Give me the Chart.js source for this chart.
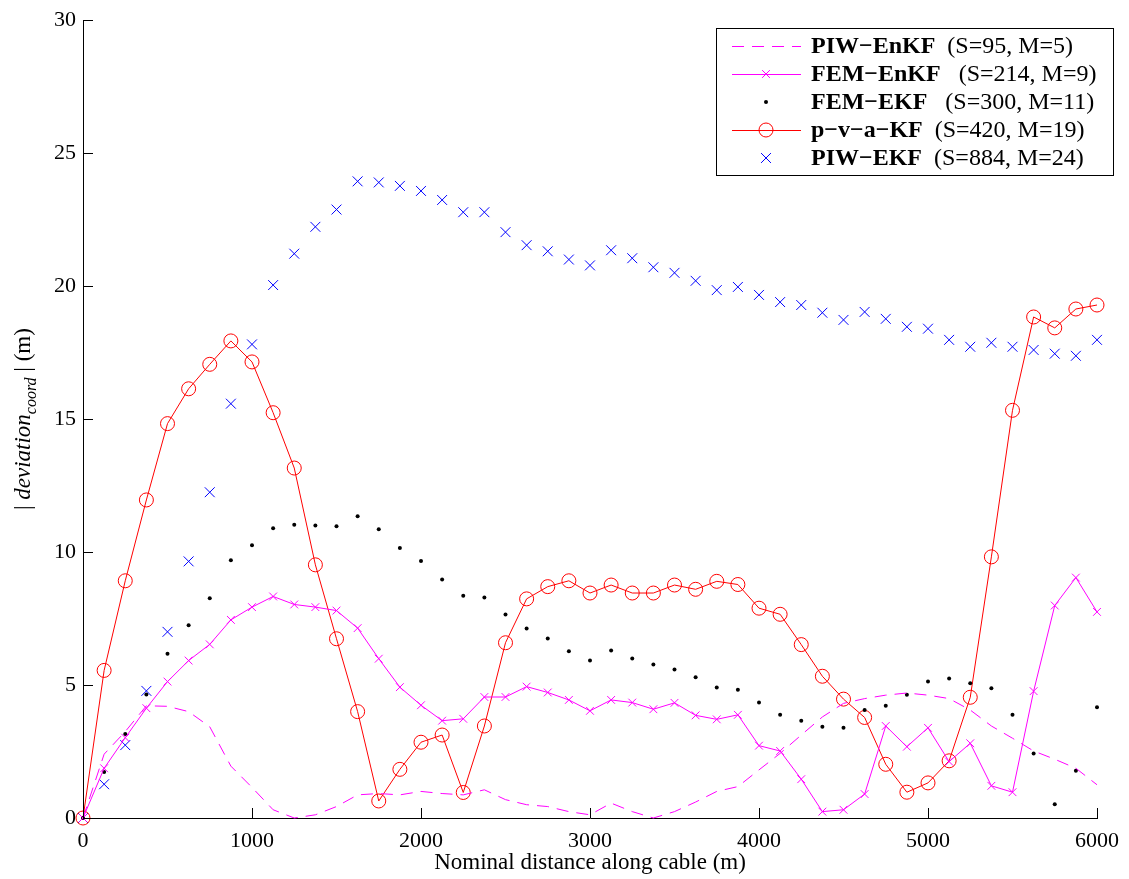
<!DOCTYPE html>
<html>
<head>
<meta charset="utf-8">
<script src="https://cdn.jsdelivr.net/npm/chart.js@4/dist/chart.umd.min.js"></script>
<style>
  html, body { margin: 0; padding: 0; background: #fff; }
  #wrap { width: 1129px; height: 879px; position: relative; }
</style>
</head>
<body>
<div id="wrap"><canvas id="c" width="1129" height="879"></canvas></div>
<script>
// ---- data ----
const distance = [0,125,250,375,500,625,750,875,1000,1125,1250,1375,1500,1625,1750,1875,2000,2125,
  2250,2375,2500,2625,2750,2875,3000,3125,3250,3375,3500,3625,3750,3875,4000,4125,4250,4375,
  4500,4625,4750,4875,5000,5125,5250,5375,5500,5625,5750,5875,6000];

const piwEnkf = [0,2.4,3.25,4.22,4.2,4.0,3.43,1.95,1.15,0.31,0.0,0.12,0.43,0.87,0.92,0.87,1.0,0.92,
  0.87,1.06,0.69,0.5,0.43,0.24,0.12,0.56,0.24,0.0,0.24,0.6,1.0,1.18,1.81,2.43,3.12,3.8,
  4.31,4.49,4.62,4.7,4.62,4.49,4.06,3.46,3.0,2.52,2.21,1.87,1.25];

const femEnkf = [0,1.87,3.02,4.13,5.13,5.92,6.53,7.45,7.93,8.33,8.03,7.93,7.8,7.14,5.99,4.92,4.24,3.66,
  3.73,4.55,4.55,4.94,4.72,4.44,4.03,4.44,4.34,4.09,4.33,3.86,3.71,3.88,2.72,2.52,1.46,0.24,
  0.31,0.9,3.46,2.68,3.39,2.12,2.81,1.21,0.97,4.77,7.99,9.04,7.75];

const femEkf = [0,1.73,3.16,4.64,6.18,7.25,8.26,9.69,10.26,10.9,11.03,11.0,10.97,11.35,10.86,10.15,9.66,8.97,
  8.36,8.29,7.65,7.13,6.75,6.27,5.92,6.3,6.0,5.77,5.58,5.29,4.91,4.82,4.34,3.88,3.66,3.43,
  3.39,4.06,4.22,4.63,5.13,5.25,5.07,4.88,3.88,2.43,0.52,1.78,4.16];

const pvaKf = [0,5.55,8.92,11.96,14.83,16.14,17.06,17.94,17.15,15.24,13.16,9.52,6.74,4.0,0.64,1.83,2.85,3.12,
  0.96,3.46,6.59,8.24,8.7,8.92,8.46,8.76,8.46,8.46,8.76,8.6,8.9,8.78,7.89,7.66,6.52,5.33,
  4.47,3.78,2.02,0.97,1.32,2.15,4.54,9.82,15.33,18.84,18.43,19.14,19.29];

const piwEkf = [0,1.27,2.74,4.78,7.0,9.65,12.25,15.58,17.81,20.04,21.22,22.23,22.88,23.94,23.9,23.77,23.58,23.24,
  22.78,22.78,22.03,21.54,21.31,21.0,20.78,21.35,21.05,20.71,20.5,20.2,19.85,19.97,19.67,19.4,19.29,19.0,
  18.73,19.03,18.77,18.47,18.4,17.98,17.72,17.87,17.72,17.6,17.46,17.38,17.98];

const seriesNames = ['PIW\u2212EnKF','FEM\u2212EnKF','FEM\u2212EKF','p\u2212v\u2212a\u2212KF','PIW\u2212EKF'];
const seriesParams = ['  (S=95, M=5)','   (S=214, M=9)','   (S=300, M=11)','  (S=420, M=19)','  (S=884, M=24)'];
const xTicks = [0,1000,2000,3000,4000,5000,6000];
const yTicks = [0,5,10,15,20,25,30];
const xTitle = 'Nominal distance along cable (m)';
const yTitleParts = ['| ', 'deviation', 'coord', ' | (m)'];

const FONT = "'Liberation Serif', 'Times New Roman', serif";
const toXY = arr => arr.map((v, i) => ({x: distance[i], y: v}));

const datasets = [
  { label: seriesNames[0], data: toXY(piwEnkf), borderColor: '#ff00ff', borderWidth: 1,
    borderDash: [12, 8], pointRadius: 0, showLine: true, mk: 'none', dash: true },
  { label: seriesNames[1], data: toXY(femEnkf), borderColor: '#ff00ff', borderWidth: 1,
    pointStyle: 'crossRot', pointRadius: 5.5, pointBorderColor: '#ff00ff', pointBorderWidth: 1,
    showLine: true, mk: 'x' },
  { label: seriesNames[2], data: toXY(femEkf), borderColor: '#000', backgroundColor: '#000',
    pointStyle: 'circle', pointRadius: 2, pointBackgroundColor: '#000', pointBorderWidth: 0,
    showLine: false, mk: 'dot' },
  { label: seriesNames[3], data: toXY(pvaKf), borderColor: '#ff0000', borderWidth: 1,
    pointStyle: 'circle', pointRadius: 7, pointBorderColor: '#ff0000', pointBackgroundColor: 'rgba(0,0,0,0)',
    pointBorderWidth: 1, showLine: true, mk: 'o' },
  { label: seriesNames[4], data: toXY(piwEkf), borderColor: '#0000ff',
    pointStyle: 'crossRot', pointRadius: 7, pointBorderColor: '#0000ff', pointBorderWidth: 1,
    showLine: false, mk: 'x' }
];
datasets.forEach(d => { d.clip = false; d.tension = 0; d.fill = false; d.pointHoverRadius = d.pointRadius; });

const PLOT = { left: 83, right: 1100, top: 17, bottom: 818 };

const decor = {
  id: 'decor',
  afterDraw(chart) {
    const ctx = chart.ctx;
    const xs = chart.scales.x, ys = chart.scales.y;
    const ca = chart.chartArea;
    ctx.save();
    // inward tick marks
    ctx.strokeStyle = '#000'; ctx.lineWidth = 1;
    ctx.beginPath();
    yTicks.forEach(v => { const py = Math.round(ys.getPixelForValue(v)) + 0.5; ctx.moveTo(ca.left, py); ctx.lineTo(ca.left + 10, py); });
    xTicks.forEach(v => { const px = Math.round(xs.getPixelForValue(v)) + 0.5; ctx.moveTo(px, ca.bottom); ctx.lineTo(px, ca.bottom - 10); });
    ctx.stroke();

    // y title (rotated, with subscript)
    ctx.save();
    ctx.translate(30, (ca.top + ca.bottom) / 2);
    ctx.rotate(-Math.PI / 2);
    ctx.fillStyle = '#000';
    ctx.textBaseline = 'alphabetic';
    const fMain = "23px " + FONT, fIt = "italic 23px " + FONT, fSub = "italic 16px " + FONT;
    ctx.font = fMain; const w0 = ctx.measureText(yTitleParts[0]).width;
    ctx.font = fIt; const w1 = ctx.measureText(yTitleParts[1]).width;
    ctx.font = fSub; const w2 = ctx.measureText(yTitleParts[2]).width;
    ctx.font = fMain; const w3 = ctx.measureText(yTitleParts[3]).width;
    let x = -(w0 + w1 + w2 + w3) / 2;
    ctx.font = fMain; ctx.fillText(yTitleParts[0], x, 0); x += w0;
    ctx.font = fIt; ctx.fillText(yTitleParts[1], x, 0); x += w1;
    ctx.font = fSub; ctx.fillText(yTitleParts[2], x, 6); x += w2;
    ctx.font = fMain; ctx.fillText(yTitleParts[3], x, 0);
    ctx.restore();

    // legend
    const bx = 716.5, by = 28.5, bw = 397, bh = 147;
    ctx.fillStyle = '#fff'; ctx.fillRect(bx, by, bw, bh);
    ctx.strokeStyle = '#000'; ctx.lineWidth = 1; ctx.strokeRect(bx, by, bw, bh);
    const rowY = [46, 74, 102, 130, 158];
    chart.data.datasets.forEach((d, i) => {
      const y = rowY[i];
      ctx.save();
      ctx.strokeStyle = d.borderColor; ctx.lineWidth = 1;
      if (d.showLine) {
        ctx.setLineDash(d.dash ? [12, 8] : []);
        ctx.beginPath(); ctx.moveTo(732, y + 0.5); ctx.lineTo(801, y + 0.5); ctx.stroke();
        ctx.setLineDash([]);
      }
      const mx = 766;
      if (d.mk === 'x') {
        const r = d.pointRadius * Math.SQRT1_2;
        ctx.strokeStyle = d.pointBorderColor;
        ctx.beginPath(); ctx.moveTo(mx - r, y - r); ctx.lineTo(mx + r, y + r);
        ctx.moveTo(mx - r, y + r); ctx.lineTo(mx + r, y - r); ctx.stroke();
      } else if (d.mk === 'dot') {
        ctx.fillStyle = '#000'; ctx.beginPath(); ctx.arc(mx, y, 2, 0, Math.PI * 2); ctx.fill();
      } else if (d.mk === 'o') {
        ctx.strokeStyle = d.pointBorderColor; ctx.beginPath(); ctx.arc(mx, y, d.pointRadius, 0, Math.PI * 2); ctx.stroke();
      }
      ctx.fillStyle = '#000'; ctx.textBaseline = 'middle';
      ctx.font = "bold 24px " + FONT;
      ctx.fillText(seriesNames[i], 811, y + 1);
      const nw = ctx.measureText(seriesNames[i]).width;
      ctx.font = "24px " + FONT;
      ctx.fillText(seriesParams[i], 811 + nw, y + 1);
      ctx.restore();
    });
    ctx.restore();
  }
};

new Chart(document.getElementById('c'), {
  type: 'scatter',
  data: { datasets },
  plugins: [decor],
  options: {
    responsive: false,
    animation: false,
    events: [],
    layout: { padding: { left: 0, top: PLOT.top, right: 1129 - PLOT.right, bottom: 0 } },
    plugins: { legend: { display: false }, tooltip: { enabled: false }, title: { display: false } },
    scales: {
      x: {
        type: 'linear', min: 0, max: 6000,
        afterFit: s => { s.height = 879 - PLOT.bottom; },
        afterBuildTicks: s => { s.ticks = xTicks.map(v => ({ value: v })); },
        grid: { display: false, drawTicks: false },
        border: { display: true, color: '#000', width: 1 },
        ticks: { color: '#000', font: { family: FONT, size: 22 }, padding: 10, maxRotation: 0,
                 callback: v => String(v) },
        title: { display: true, text: xTitle, color: '#000', font: { family: FONT, size: 23 }, padding: { top: 0, bottom: 2 } }
      },
      y: {
        type: 'linear', min: 0, max: 30,
        afterFit: s => { s.width = PLOT.left; },
        afterBuildTicks: s => { s.ticks = yTicks.map(v => ({ value: v })); },
        grid: { display: false, drawTicks: false },
        border: { display: true, color: '#000', width: 1 },
        ticks: { color: '#000', font: { family: FONT, size: 22 }, padding: 7, callback: v => String(v) }
      }
    }
  }
});
</script>
</body>
</html>
